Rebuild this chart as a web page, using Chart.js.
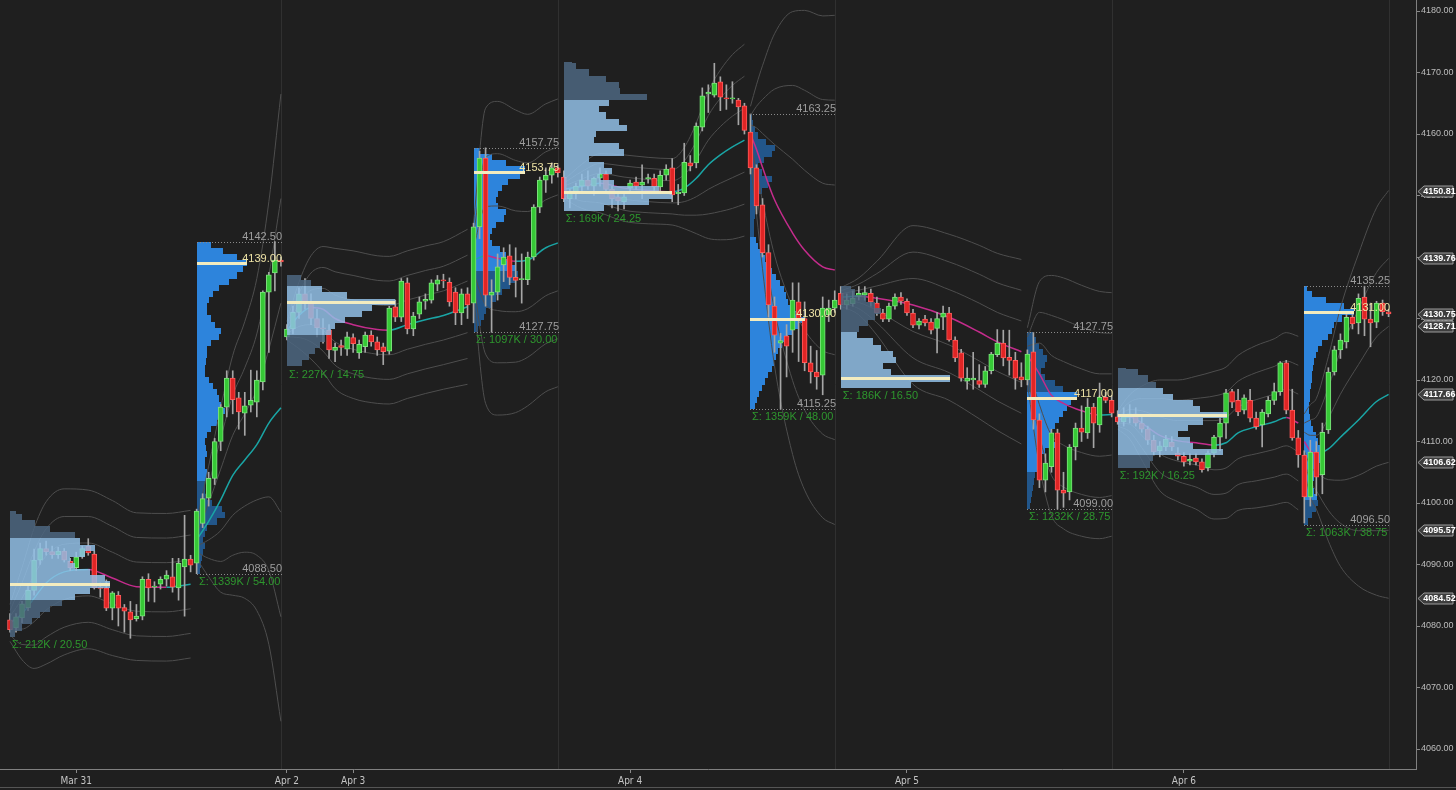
<!DOCTYPE html>
<html lang="en">
<head>
<meta charset="UTF-8">
<title>ES 30 min - session volume profiles</title>
<script src="https://cdn.jsdelivr.net/npm/chart.js"></script>
<style>
  html, body { margin: 0; padding: 0; background: #1f1f1f; overflow: hidden; }
  #wrap { position: relative; width: 1456px; height: 790px; }
</style>
</head>
<body>
<div id="wrap"><canvas id="chart" width="1456" height="790"></canvas></div>
<script>
// 30 min bars, 46 per session: [open, high, low, close]
var mar31 = [
  [4081,4082,4079,4079.4],[4079.7,4082,4079,4081.5],[4081.3,4084,4080.5,4083.6],[4083,4086.5,4082.5,4085.8],
  [4085.8,4092.5,4085,4090.7],[4090.7,4093.5,4090,4092.6],[4092.6,4093.8,4091.5,4092.1],[4092.1,4093,4091,4091.6],
  [4091.6,4092.8,4091,4092.2],[4092.2,4092.6,4090.4,4090.7],[4090.5,4091,4089,4089.5],[4089.5,4092,4089,4091.2],
  [4091.3,4093,4091,4092.6],[4093,4094.2,4091.5,4091.9],[4091.7,4092.2,4086,4086.2],[4086.3,4087,4084.7,4086.1],
  [4086.2,4087.5,4082.5,4082.9],[4082.9,4085.6,4081,4085.4],[4085,4085.6,4080,4082.9],[4083,4083.5,4079,4082.4],
  [4082.3,4084,4078,4081],[4081.2,4083.5,4080.8,4081.6],[4081.6,4088,4081,4087.6],[4087.6,4088.5,4084,4086.2],
  [4086.3,4087.2,4083.9,4086.5],[4086.8,4088,4086,4087.6],[4087.6,4089,4086.5,4088.3],[4088,4091,4085.5,4086.3],
  [4086.2,4091,4084.2,4090.2],[4089.6,4098,4081.6,4090.9],[4090.9,4091.5,4088.8,4089.9],[4090.2,4099,4088.5,4098.7],
  [4096.7,4101.5,4096,4100.7],[4100.8,4105,4099.5,4104],[4104,4110.5,4103,4110],[4110,4116,4108.5,4115.6],
  [4115.6,4121.5,4114,4120.3],[4120.3,4121.5,4114.5,4116.8],[4117.1,4118,4112,4114.8],[4114.6,4118,4111,4115.8],
  [4115.9,4121.6,4114.8,4116.7],[4116.4,4121.5,4114,4120],[4119.7,4134.5,4118.4,4134.3],[4134.3,4137.5,4124.5,4137.1],
  [4137.4,4142.5,4134.5,4139.5],[4139.5,4140,4138.5,4139.2]
];
var apr3 = [
  [4127,4129,4126.5,4128.3],[4128.3,4132,4127.5,4131],[4131,4135,4130,4134],[4134,4136.5,4131.5,4132.5],
  [4132.5,4134,4129,4130],[4130,4131.5,4127,4128.5],[4128.5,4130,4126,4128.3],[4128.1,4129,4123.5,4124.9],
  [4124.8,4126,4123,4125.3],[4125.6,4126.5,4124,4125.3],[4125,4127.8,4124,4127],[4126.9,4127.5,4124.5,4125.9],
  [4124.4,4126.5,4123.5,4125.8],[4125.4,4127.8,4124.5,4127.3],[4127.3,4128,4125.5,4126.2],[4126.2,4127,4124,4124.9],
  [4125.4,4126,4122.5,4124.6],[4124.7,4132,4124.2,4131.7],[4131.9,4133,4129.5,4130.2],[4130.2,4136.5,4129.5,4136.1],
  [4135.8,4136.6,4127.5,4128.3],[4128.3,4131,4127.2,4130.4],[4130.7,4133.5,4130,4132.7],[4132.8,4134,4131.5,4133.1],
  [4133,4136.3,4132.5,4135.8],[4135.6,4137,4134.5,4136.3],[4136.3,4137.2,4135,4136.1],[4135.9,4136.6,4132,4132.7],
  [4134.3,4135,4129,4130.9],[4130.9,4134.8,4129,4134],[4134,4135,4130,4132.2],[4132.5,4145.5,4129.3,4144.9],
  [4144.9,4157.2,4143,4156.1],[4156.1,4157.75,4132,4133.8],[4133.8,4136.3,4127.75,4134.3],[4134.3,4140.5,4133,4138.4],
  [4138.7,4141.5,4136,4140],[4140.2,4142,4135.5,4136.7],[4136.7,4141.5,4133.5,4136.2],[4136.3,4140.5,4132.5,4136.5],
  [4136.3,4140.8,4135.5,4140],[4140,4148.5,4139.5,4148.1],[4148.1,4153,4147.2,4152.5],[4152.5,4154.5,4150.5,4153.3],
  [4153.3,4155.3,4152,4154.5],[4154.5,4155,4153,4153.7]
];
var apr4 = [
  [4153,4154,4149,4149.5],[4149.5,4151,4148,4150.5],[4150.5,4152,4149.5,4151.5],[4151.5,4153.5,4150.5,4152.5],
  [4152.5,4154,4151,4151.5],[4151.5,4153,4150,4152.8],[4152.8,4154.5,4151.5,4153.5],[4153.5,4154,4150.5,4151],
  [4151,4151.5,4148,4149.5],[4149.8,4150.5,4147.5,4149.1],[4149,4150.5,4147.8,4149.8],[4151.2,4152.5,4150.5,4152],
  [4152.2,4153,4151,4151.5],[4151.7,4155,4149.5,4152.2],[4152.7,4153.5,4152,4152.9],[4152.8,4153.5,4150.5,4151.4],
  [4151.4,4154,4150.8,4153.3],[4153.3,4155,4152.5,4154.3],[4154.5,4156,4149,4150.1],[4150.3,4151.8,4148.5,4150.5],
  [4150.4,4158.5,4150,4155.4],[4155.3,4156.5,4154,4154.8],[4155.3,4161.8,4154.5,4161.3],[4161.1,4167.5,4160.5,4166.2],
  [4166.5,4168,4163.5,4166.8],[4166.3,4171.5,4166,4168.3],[4168.5,4169.3,4163.8,4166],[4165.9,4168,4164,4165.7],
  [4165.7,4168.5,4165,4165.9],[4165.5,4165.8,4161.5,4164.4],[4164.6,4165,4160,4160.6],[4160.3,4163.25,4153.5,4154.5],
  [4154.5,4155,4147,4148.3],[4148.5,4149.5,4140,4140.7],[4140.7,4142,4130.2,4132.2],[4132,4133.5,4124.5,4127.3],
  [4126,4127.6,4115.25,4126.4],[4127.2,4129,4120.5,4125.5],[4128.1,4135.8,4124.5,4133],[4132.7,4135.8,4123,4129.8],
  [4130,4132.7,4121.5,4122.8],[4122.8,4125.5,4119.5,4121.3],[4121.3,4124.8,4118.5,4120.5],[4120.8,4133.5,4117.6,4131.7],
  [4130.6,4133,4129.5,4131.7],[4131.7,4134.5,4131,4133]
];
var apr5 = [
  [4134.1,4135.2,4131.5,4132.2],[4132.2,4134,4131.5,4133],[4132.4,4134.5,4132,4133.3],[4133.6,4135.2,4133,4134.1],
  [4133.8,4135.2,4133,4134.2],[4134.1,4134.8,4132,4132.7],[4132.5,4133.5,4130.5,4130.9],[4130.9,4131.5,4129.5,4129.9],
  [4129.9,4132.5,4129.5,4132],[4132,4134,4131.5,4133.5],[4133.5,4134.2,4132.3,4132.8],[4132.8,4133.2,4130.5,4130.9],
  [4130.9,4131.5,4128.5,4128.9],[4128.9,4130,4128.3,4129.6],[4129.9,4130.5,4128.8,4129.3],[4129.4,4130,4127.5,4128.1],
  [4128.4,4131,4124.4,4130],[4130.2,4132,4128.2,4130.9],[4130.9,4131.8,4126.3,4126.5],[4126.5,4127,4123,4123.6],
  [4124.4,4125,4119.8,4120.3],[4119.8,4122,4118.5,4120.3],[4120,4124.5,4118.5,4120.3],[4119.9,4122.5,4118.8,4119.3],
  [4119.3,4122.2,4118.8,4121.5],[4121.5,4124.5,4121,4124.2],[4124.1,4128.2,4123.8,4126],[4126,4128.1,4122.3,4123.6],
  [4123.7,4128.1,4120.8,4123.2],[4123.2,4124.5,4118.5,4120.3],[4120.5,4122.8,4118.9,4120],[4120,4124.9,4119.2,4124.2],
  [4124.6,4127.75,4112,4113.5],[4113.5,4114.5,4102.5,4103.7],[4103.7,4108,4101.8,4106.5],[4105.9,4112,4105,4111.4],
  [4111.4,4112,4099,4102.1],[4102.1,4105,4099.3,4101.6],[4101.8,4109.5,4100.5,4109.1],[4109.1,4113,4107,4112.2],
  [4112.2,4115.8,4110,4111.5],[4111.4,4117,4110.5,4115.6],[4115.6,4116.2,4109,4113],[4112.7,4119.5,4111.5,4117.2],
  [4117.2,4118,4116.3,4116.7],[4116.7,4117.5,4114,4114.6]
];
var apr6 = [
  [4114,4115,4112.8,4113.2],[4113.2,4115.5,4112.5,4114],[4114,4116,4113,4114.5],[4114.5,4115.5,4112.5,4113],
  [4113,4114,4111.5,4112],[4112,4112.5,4109.5,4110.2],[4110.2,4111,4107.8,4108.3],[4108.5,4110,4107.5,4109.3],
  [4109.1,4111,4108.5,4110.4],[4109.9,4110.8,4108.5,4109.1],[4108.1,4109,4107,4107.6],[4107.6,4108.2,4106,4106.7],
  [4106.8,4108,4106.2,4107.1],[4107.3,4108,4106.2,4106.7],[4106.7,4107.2,4105,4105.4],[4105.7,4108.5,4105.2,4108.1],
  [4108.1,4111,4107.5,4110.7],[4110.7,4113.8,4108.5,4113],[4113,4118.5,4110.5,4117.9],[4118.1,4118.5,4115.5,4116.4],
  [4116.7,4118.5,4114.2,4114.8],[4115.1,4117.6,4114.5,4117.1],[4116.7,4118.5,4113.2,4113.8],[4113.8,4114.8,4112,4112.4],
  [4112.7,4115.2,4109.1,4114.8],[4114.5,4117.3,4114,4116.7],[4116.7,4119.5,4116,4118.1],[4118.1,4123,4117.5,4122.8],
  [4122.8,4123.2,4114.5,4115.1],[4115.1,4118.5,4110.2,4110.6],[4110.6,4111.8,4105.8,4107.8],[4107.8,4108.5,4096.75,4101],
  [4101,4110.2,4099.5,4108.3],[4108.3,4110,4101.2,4104.2],[4104.6,4113,4101.5,4111.5],[4111.9,4122,4111.3,4121.3],
  [4121.3,4125.5,4120.8,4124.9],[4124.9,4127.5,4123.5,4126.5],[4126.2,4130.7,4125.2,4130.2],[4130.2,4130.8,4128.3,4129.1],
  [4129.3,4134,4127.5,4133.3],[4133.5,4135.25,4127.2,4129.9],[4129.9,4132.5,4125.4,4129.3],[4129.4,4132.8,4128.5,4132.5],
  [4132.5,4133,4130.5,4131.1],[4131.1,4131.5,4130.3,4130.75]
];

// session VWAP: [bar in session, vwap, one std dev]
var vwapMar31Eth = [[0,4080.5,1],[2,4082,2.5],[4,4084.5,3.8],[6,4087,4.4],[9,4088.8,4.5],[13,4089.2,4.3],[17,4087.8,4.2],[21,4086.4,4],[26,4086.3,4],[30,4086.8,4]];
var vwapMar31Rth = [[31,4094,1],[33,4097,3],[35,4100.5,5],[37,4104.5,6.5],[39,4107,7.5],[41,4109.5,9],[43,4113,12],[45,4115.5,17]];
var vwapApr3Eth = [[0,4128,0.5],[2,4130.5,1.8],[4,4131.8,2.8],[6,4131.5,3.4],[8,4130,3.8],[11,4129,4],[15,4128.2,4],[17,4128.1,4],[20,4129,4],[23,4129.8,4],[26,4130.5,4],[30,4131.9,4.2]];
var vwapApr3Rth = [[31,4139.5,2],[33,4140.2,8],[35,4139.8,8.5],[38,4139.3,8.2],[40,4139.5,7.9],[43,4141.5,7.8],[45,4142.3,7.8]];
var vwapApr4Eth = [[0,4151,0.5],[3,4151.5,1.2],[6,4152,1.6],[10,4151.2,1.8],[14,4150.8,1.8],[18,4150.6,1.8],[20,4151.2,2.2],[22,4152.8,3],[24,4155,4],[26,4156.6,4.6],[28,4157.9,5],[30,4159,5.2]];
var vwapApr4Rth = [[31,4160,1.5],[32,4157.5,3.5],[33,4154.6,5.5],[35,4149.3,9],[38,4143.9,12],[40,4141.1,13],[43,4138.4,13.6],[45,4137.9,13.8]];
var vwapApr5Eth = [[0,4133.5,0.5],[3,4133.6,1],[6,4133.3,2],[12,4132.2,4.3],[18,4130.2,4.5],[23,4127.8,4.7],[26,4126.2,4.8],[30,4124.6,5]];
var vwapApr5Rth = [[31,4124,1.5],[33,4121,5],[35,4117.5,6.5],[37,4116.2,6.8],[40,4115,6.8],[43,4114.3,6.7],[45,4114.4,6.6]];
var vwapApr6Eth = [[0,4113.5,0.5],[2,4114,1.2],[4,4113,2],[7,4111,3],[10,4110.1,3.3],[13,4109.8,3.6],[16,4109.4,4],[18,4109.8,4.1],[20,4111.4,4.2],[23,4112.4,4.4],[26,4113.2,4.5],[28,4113.9,4.6],[30,4113,4.7]];
var vwapApr6Rth = [[31,4110,1.5],[32,4108.5,2.5],[33,4108,3],[35,4108.8,5],[37,4110.7,7],[40,4113.5,9],[43,4116.5,10.5],[45,4117.66,11.05]];

// volume profiles, one value per 1 pt row from the profile low upward
var volEthMar31 = [5,12,22,30,40,52,65,80,100,95,80,65,60,75,85,70,65,40,25,12,6];
var volRthMar31 = [3,4,5,6,8,6,8,10,20,28,25,15,10,8,8,10,10,8,8,10,9,8,10,14,20,26,28,24,22,20,16,12,8,8,9,10,10,14,22,24,18,14,10,10,12,16,22,32,40,46,50,40,26,14];
var volEthApr3 = [15,22,28,33,38,44,48,58,75,85,108,60,35,24,14];
var volRthApr3 = [4,7,10,12,18,22,28,36,42,44,42,38,32,26,18,16,18,22,30,32,24,22,24,28,34,46,51,32,18,6];
var volEthApr4 = [40,85,108,95,50,36,48,40,25,60,55,30,32,63,55,42,35,45,83,56,55,42,25,12,8];
var volRthApr4 = [5,7,9,12,15,18,22,24,26,28,32,38,42,48,55,50,44,38,36,34,30,26,22,18,15,12,8,6,4,4,4,5,5,6,8,12,18,22,12,8,14,22,25,16,8,5,3,2];
var volEthApr5 = [70,109,50,42,55,52,40,32,16,18,27,34,40,34,25,14,10];
var volRthApr5 = [3,4,5,6,7,8,10,12,14,18,28,26,24,28,32,36,40,44,50,36,28,18,14,18,20,16,12,9,7];
var volEthApr6 = [32,35,105,75,72,60,70,85,109,82,75,55,45,38,30,20,8];
var volRthApr6 = [4,8,12,14,13,10,9,10,12,14,16,18,16,14,12,9,7,6,5,5,6,6,7,8,8,9,10,12,14,18,24,28,30,38,50,40,22,8,3];

var ethLow = [4078.25, 4122.25, 4147.5, 4118.75, 4105.75];
var ethHigh = [4098.75, 4137.0, 4171.75, 4135.25, 4122.0];
var ethPoc = [4086.75, 4132.75, 4150.5, 4120.25, 4114.25];
var ethVA = [[4084.5, 4094.3], [4127.5, 4135.1], [4147.5, 4165.5], [4118.75, 4127.3], [4108, 4118.4]];
var ethStats = ['\u03a3: 212K / 20.50', '\u03a3: 227K / 14.75', '\u03a3: 169K / 24.25', '\u03a3: 186K / 16.50', '\u03a3: 192K / 16.25'];

var rthLow = [4088.50, 4127.75, 4115.25, 4099.00, 4096.50];
var rthHigh = [4142.50, 4157.75, 4163.25, 4127.75, 4135.25];
var rthPoc = [4139.00, 4153.75, 4130.00, 4117.00, 4131.00];
var rthVA = [[4103.5, 4142.5], [4137.5, 4157.75], [4115.25, 4143.2], [4104.8, 4118.2], [4100.8, 4135.25]];
var rthStats = ['\u03a3: 1339K / 54.00', '\u03a3: 1097K / 30.00', '\u03a3: 1359K / 48.00', '\u03a3: 1232K / 28.75', '\u03a3: 1063K / 38.75'];

var dayTicks = [11, 46, 57, 103, 149, 195];
var dayLabels = ['Mar 31', 'Apr 2', 'Apr 3', 'Apr 4', 'Apr 5', 'Apr 6'];
var axisMarks = [4150.81, 4139.76, 4130.75, 4128.71, 4117.66, 4106.62, 4095.57, 4084.52];

var SESSION_BARS = 46;
var RTH_START = 31;
var VOL_PER_BAR = 6.02;   // profile volume units spanning one bar slot

var sessions = [mar31, apr3, apr4, apr5, apr6];
var vwapSegs = [vwapMar31Eth, vwapMar31Rth, vwapApr3Eth, vwapApr3Rth, vwapApr4Eth, vwapApr4Rth, vwapApr5Eth, vwapApr5Rth, vwapApr6Eth, vwapApr6Rth];
var ethVols = [volEthMar31, volEthApr3, volEthApr4, volEthApr5, volEthApr6];
var rthVols = [volRthMar31, volRthApr3, volRthApr4, volRthApr5, volRthApr6];

var wickData = [], bodyData = [], bodyFill = [], bodyEdge = [];
sessions.forEach(function (bars, s) {
  bars.forEach(function (b, k) {
    var n = s * SESSION_BARS + k;
    wickData.push({ x: n, y: [b[2], b[1]] });
    bodyData.push({ x: n, y: [b[0], b[3]] });
    var up = b[3] >= b[0];
    bodyFill.push(up ? '#36c936' : '#e02525');
    bodyEdge.push(up ? '#7ee27e' : '#ff5b5b');
  });
});

function bandData(mult) {
  var out = [];
  vwapSegs.forEach(function (seg, i) {
    var s = Math.floor(i / 2);
    seg.forEach(function (p) {
      out.push({ x: s * SESSION_BARS + p[0], y: p[1] + mult * p[2] });
    });
    out.push({ x: s * SESSION_BARS + seg[seg.length - 1][0] + 0.4, y: null });
  });
  return out;
}

var bandSets = [3, 2, 1, -1, -2, -3].map(function (m) {
  return {
    type: 'line', data: bandData(m), borderColor: '#4e4e4e', borderWidth: 1,
    pointRadius: 0, cubicInterpolationMode: 'monotone', spanGaps: false, order: 10
  };
});

var TEAL = '#1aa5a5', MAGENTA = '#c42c8c';

function drawProfile(ctx, xs, ys, startN, low, high, vols, va, cIn, cOut) {
  var x0 = Math.round(xs.getPixelForValue(startN));
  vols.forEach(function (v, i) {
    var lo = low + i, hi = Math.min(low + i + 1, high);
    var mid = (lo + hi) / 2;
    var x1 = Math.round(xs.getPixelForValue(startN + v / VOL_PER_BAR));
    var yTop = Math.round(ys.getPixelForValue(hi)), yBot = Math.round(ys.getPixelForValue(lo));
    ctx.fillStyle = (mid >= va[0] && mid <= va[1]) ? cIn : cOut;
    ctx.fillRect(x0, yTop, x1 - x0, yBot - yTop);
  });
}

function pocLine(ctx, xs, ys, startN, price, vols) {
  var maxV = Math.max.apply(null, vols);
  var x0 = Math.round(xs.getPixelForValue(startN)), x1 = Math.round(xs.getPixelForValue(startN + maxV / VOL_PER_BAR));
  var y = Math.round(ys.getPixelForValue(price));
  ctx.fillStyle = '#f3ecbf';
  ctx.fillRect(x0, y - 1, x1 - x0, 3);
}

var LABEL_FONT = '11px "Liberation Sans", Arial, sans-serif';

var overlay = {
  id: 'overlay',
  beforeDatasetsDraw: function (chart) {
    var ctx = chart.ctx, a = chart.chartArea, xs = chart.scales.x, ys = chart.scales.y;
    ctx.save();
    ctx.beginPath(); ctx.rect(a.left, a.top, a.right - a.left, a.bottom - a.top); ctx.clip();
    ctx.strokeStyle = '#303030'; ctx.lineWidth = 1;
    for (var s = 0; s < sessions.length; s++) {
      var x = Math.round(xs.getPixelForValue(s * SESSION_BARS + 45)) + 0.5;
      ctx.beginPath(); ctx.moveTo(x, a.top); ctx.lineTo(x, a.bottom); ctx.stroke();
    }
    for (s = 0; s < sessions.length; s++) {
      drawProfile(ctx, xs, ys, s * SESSION_BARS + RTH_START, rthLow[s], rthHigh[s], rthVols[s], rthVA[s], '#2d84dc', '#22568a');
    }
    ctx.restore();
  },
  afterDatasetsDraw: function (chart) {
    var ctx = chart.ctx, a = chart.chartArea, xs = chart.scales.x, ys = chart.scales.y;
    ctx.save();
    ctx.beginPath(); ctx.rect(a.left, a.top, a.right - a.left, a.bottom - a.top); ctx.clip();
    for (var s = 0; s < sessions.length; s++) {
      var e0 = s * SESSION_BARS, r0 = s * SESSION_BARS + RTH_START, end = s * SESSION_BARS + 45;
      ctx.globalAlpha = 0.84;
      drawProfile(ctx, xs, ys, e0, ethLow[s], ethHigh[s], ethVols[s], ethVA[s], '#92c1e8', '#4d6882');
      ctx.globalAlpha = 1;
      pocLine(ctx, xs, ys, e0, ethPoc[s], ethVols[s]);
      pocLine(ctx, xs, ys, r0, rthPoc[s], rthVols[s]);

      var xl = Math.round(xs.getPixelForValue(r0)), xr = Math.round(xs.getPixelForValue(end)) + 1;
      var yh = Math.round(ys.getPixelForValue(rthHigh[s])) + 0.5;
      var yl = Math.round(ys.getPixelForValue(rthLow[s])) + 0.5;
      ctx.strokeStyle = '#8a8a8a'; ctx.lineWidth = 1; ctx.setLineDash([1, 2]);
      ctx.beginPath(); ctx.moveTo(xl, yh); ctx.lineTo(xr, yh); ctx.moveTo(xl, yl); ctx.lineTo(xr, yl); ctx.stroke();
      ctx.setLineDash([]);

      ctx.font = LABEL_FONT; ctx.textAlign = 'right'; ctx.textBaseline = 'bottom';
      ctx.fillStyle = '#9e9e9e';
      ctx.fillText(rthHigh[s].toFixed(2), xr, yh - 0.5);
      ctx.fillText(rthLow[s].toFixed(2), xr, yl - 0.5);
      ctx.fillStyle = '#eee3a6';
      ctx.fillText(rthPoc[s].toFixed(2), xr, ys.getPixelForValue(rthPoc[s]) + 1);

      ctx.textAlign = 'left'; ctx.textBaseline = 'top'; ctx.fillStyle = '#2e962e';
      ctx.fillText(rthStats[s], xl + 2, yl + 2);
      ctx.fillText(ethStats[s], xs.getPixelForValue(e0) + 2, ys.getPixelForValue(ethLow[s]) + 3);
    }
    ctx.restore();
  },
  afterDraw: function (chart) {
    var ctx = chart.ctx, a = chart.chartArea, ys = chart.scales.y;
    ctx.save();
    ctx.font = 'bold 9px "Liberation Sans", Arial, sans-serif';
    ctx.textAlign = 'center'; ctx.textBaseline = 'middle';
    axisMarks.forEach(function (v) {
      var y = Math.round(ys.getPixelForValue(v)) + 0.5;
      var x0 = a.right + 2, x1 = a.right + 8, x2 = chart.width - 3;
      ctx.beginPath();
      ctx.moveTo(x0, y); ctx.lineTo(x1, y - 5.5); ctx.lineTo(x2, y - 5.5);
      ctx.lineTo(x2, y + 5.5); ctx.lineTo(x1, y + 5.5); ctx.closePath();
      ctx.fillStyle = '#3e3e3e'; ctx.fill();
      ctx.strokeStyle = '#9c9c9c'; ctx.lineWidth = 1; ctx.stroke();
      ctx.fillStyle = '#ffffff';
      ctx.fillText(v.toFixed(2), (x1 + x2) / 2 + 1, y + 0.5);
    });
    ctx.strokeStyle = '#555555';
    ctx.beginPath(); ctx.moveTo(0, 787.5); ctx.lineTo(chart.width, 787.5); ctx.stroke();
    ctx.restore();
  }
};

var chart = new Chart(document.getElementById('chart'), {
  type: 'bar',
  data: {
    datasets: bandSets.concat([
      {
        type: 'line', data: bandData(0), borderWidth: 1.5, pointRadius: 0,
        cubicInterpolationMode: 'monotone', spanGaps: false, order: 9,
        borderColor: TEAL,
        segment: {
          borderColor: function (c) { return c.p1.parsed.y >= c.p0.parsed.y ? TEAL : MAGENTA; }
        }
      },
      {
        type: 'bar', data: wickData, backgroundColor: '#a6a6a6', barThickness: 1,
        grouped: false, order: 2
      },
      {
        type: 'bar', data: bodyData, backgroundColor: bodyFill, borderColor: bodyEdge,
        borderWidth: 1, borderSkipped: false, barThickness: 5, minBarLength: 1,
        grouped: false, order: 1
      }
    ])
  },
  options: {
    responsive: false,
    animation: false,
    events: [],
    layout: { padding: 0 },
    plugins: { legend: { display: false }, tooltip: { enabled: false } },
    scales: {
      x: {
        type: 'linear', min: -1.661, max: 233.555, offset: false,
        afterBuildTicks: function (sc) { sc.ticks = dayTicks.map(function (v) { return { value: v }; }); },
        afterFit: function (sc) { sc.height = 21; sc.paddingLeft = 0; sc.paddingRight = 0; },
        ticks: {
          autoSkip: false, maxRotation: 0, padding: 2, color: '#c4c4c4',
          font: { family: '"Liberation Sans Narrow", "DejaVu Sans Condensed", sans-serif', size: 10 },
          callback: function (v) { var i = dayTicks.indexOf(v); return i >= 0 ? dayLabels[i] : ''; }
        },
        grid: { drawOnChartArea: false, color: '#8a8a8a', tickLength: 4, offset: false },
        border: { color: '#808080' }
      },
      y: {
        type: 'linear', position: 'right', min: 4056.748, max: 4181.789,
        afterFit: function (sc) { sc.width = 40; sc.paddingTop = 0; sc.paddingBottom = 0; },
        ticks: {
          stepSize: 10, includeBounds: false, padding: 1, color: '#bdbdbd',
          font: { family: '"Liberation Sans", Arial, sans-serif', size: 9 },
          callback: function (v) { return Number(v).toFixed(2); }
        },
        grid: { drawOnChartArea: false, color: '#8a8a8a', tickLength: 4 },
        border: { color: '#808080' }
      }
    }
  },
  plugins: [overlay]
});
</script>
</body>
</html>
